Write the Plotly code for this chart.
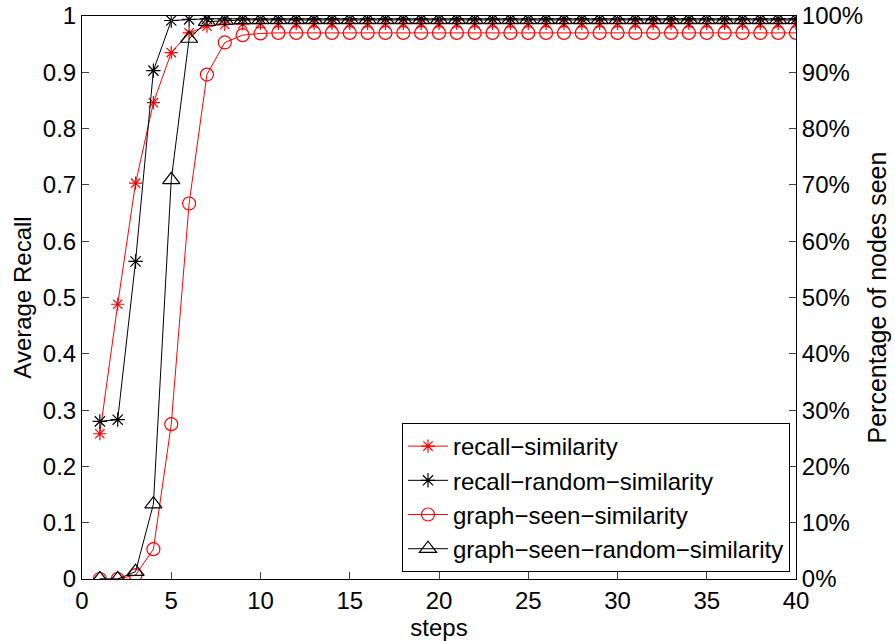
import plotly.graph_objects as go

steps = list(range(1, 41))
recall_similarity = [0.258, 0.488, 0.703, 0.846, 0.935, 0.970, 0.982, 0.985, 0.986, 0.987] + [0.987] * 30
recall_random_similarity = [0.280, 0.283, 0.564, 0.903, 0.992, 0.994, 0.995, 0.995, 0.995, 0.995] + [0.995] * 30
graph_seen_similarity = [0.0, 0.0, 0.007, 0.053, 0.275, 0.667, 0.896, 0.953, 0.966, 0.969] + [0.970] * 30
graph_seen_random_similarity = [0.0, 0.0, 0.013, 0.133, 0.709, 0.960, 0.990, 0.992, 0.993, 0.993] + [0.993] * 30

x_ticks = list(range(0, 41, 5))
y_ticks = [i / 10 for i in range(11)]
y_labels = ["0", "0.1", "0.2", "0.3", "0.4", "0.5", "0.6", "0.7", "0.8", "0.9", "1"]
y2_labels = [f"{i * 10}%" for i in range(11)]

FONT = "Liberation Sans, Arial, Helvetica, sans-serif"

fig = go.Figure()
fig.add_trace(go.Scatter(x=steps, y=recall_similarity, name="recall\u2212similarity",
                         mode="lines+markers", line=dict(color="#ff0000", width=1),
                         marker=dict(symbol="asterisk-open", size=11, color="#ff0000",
                                     line=dict(color="#ff0000", width=1.2))))
fig.add_trace(go.Scatter(x=steps, y=recall_random_similarity, name="recall\u2212random\u2212similarity",
                         mode="lines+markers", line=dict(color="#000000", width=1),
                         marker=dict(symbol="asterisk-open", size=12, color="#000000",
                                     line=dict(color="#000000", width=1.2))))
fig.add_trace(go.Scatter(x=steps, y=graph_seen_similarity, name="graph\u2212seen\u2212similarity",
                         mode="lines+markers", line=dict(color="#ff0000", width=1), yaxis="y2",
                         marker=dict(symbol="circle-open", size=13, color="#ff0000",
                                     line=dict(color="#ff0000", width=1.2))))
fig.add_trace(go.Scatter(x=steps, y=graph_seen_random_similarity, name="graph\u2212seen\u2212random\u2212similarity",
                         mode="lines+markers", line=dict(color="#000000", width=1), yaxis="y2",
                         marker=dict(symbol="triangle-up-open", size=15, color="#000000",
                                     line=dict(color="#000000", width=1.2))))

fig.update_layout(
    width=895, height=641,
    margin=dict(l=82, r=99, t=16, b=62, autoexpand=False),
    paper_bgcolor="white", plot_bgcolor="white",
    font=dict(family=FONT, size=24, color="black"),
    showlegend=True,
    legend=dict(x=0.9916, y=0.0124, xanchor="right", yanchor="bottom",
                bordercolor="black", borderwidth=1, bgcolor="white",
                font=dict(size=24), tracegroupgap=0, itemwidth=40),
    xaxis=dict(range=[0, 40], tickvals=x_ticks, ticks="inside", ticklen=7,
               showline=True, linecolor="black", linewidth=1, mirror="ticks",
               showgrid=False, zeroline=False, automargin=False,
               title=dict(text="steps", font=dict(size=24), standoff=4)),
    yaxis=dict(range=[0, 1], tickvals=y_ticks, ticktext=y_labels, ticks="inside", ticklen=7,
               showline=True, linecolor="black", linewidth=1, mirror=True,
               showgrid=False, zeroline=False, automargin=False,
               title=dict(text="Average Recall", font=dict(size=24), standoff=4)),
    yaxis2=dict(range=[0, 1], tickvals=y_ticks, ticktext=y2_labels, ticks="inside", ticklen=7,
                overlaying="y", side="right", showline=True, linecolor="black", linewidth=1,
                showgrid=False, zeroline=False, automargin=False,
                title=dict(text="Percentage of nodes seen", font=dict(size=25), standoff=6)),
)

fig.write_html("out.html")
